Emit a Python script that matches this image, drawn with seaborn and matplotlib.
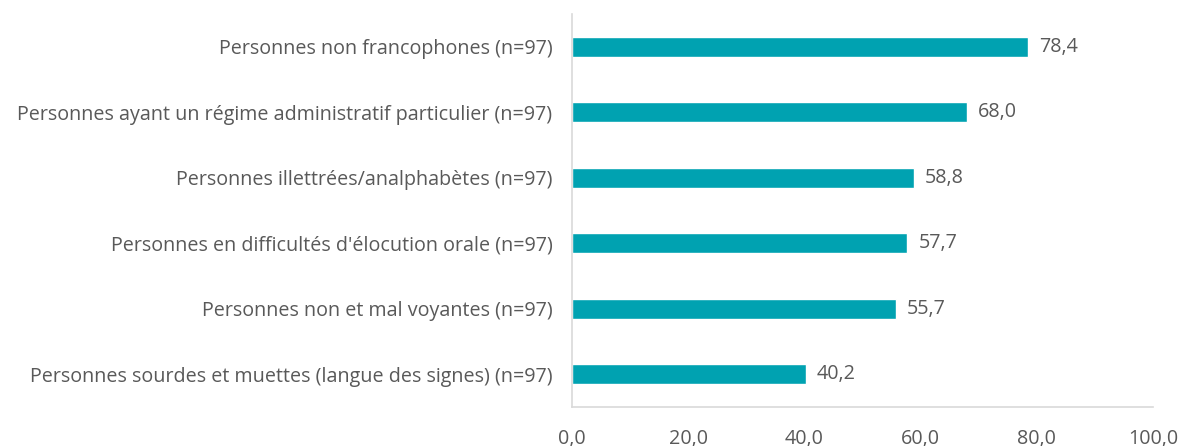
import pandas as pd
import seaborn as sns
import matplotlib.pyplot as plt

# Data
categories = [
    "Personnes non francophones (n=97)",
    "Personnes ayant un régime administratif particulier (n=97)",
    "Personnes illettrées/analphabètes (n=97)",
    "Personnes en difficultés d'élocution orale (n=97)",
    "Personnes non et mal voyantes (n=97)",
    "Personnes sourdes et muettes (langue des signes) (n=97)",
]
values = [78.4, 68.0, 58.8, 57.7, 55.7, 40.2]
x_ticks = [0, 20, 40, 60, 80, 100]

df = pd.DataFrame({"categorie": categories, "valeur": values})

sns.set_style("white")
plt.rcParams['font.family'] = ['Open Sans', 'DejaVu Sans']

text_color = "#595959"
bar_color = "#00A2B1"
fsize = 14.2

fig = plt.figure(figsize=(11.82, 4.46), dpi=100)
ax = fig.add_axes([0.4839, 0.0874, 0.4916, 0.8812])

sns.barplot(data=df, x="valeur", y="categorie", color=bar_color,
            width=0.30, saturation=1, ax=ax)

# value labels with French decimal comma
labels = [f"{v:.1f}".replace(".", ",") for v in values]
ax.bar_label(ax.containers[0], labels=labels, padding=8,
             fontsize=fsize, color=text_color)

ax.set_xlim(0, 100)
ax.set_ylim(5.5, -0.5)
ax.set_xticks(x_ticks)
ax.set_xticklabels([f"{t:.1f}".replace(".", ",") for t in x_ticks])
ax.set_xlabel("")
ax.set_ylabel("")

ax.tick_params(axis="x", length=0, pad=16, labelsize=fsize, labelcolor=text_color)
ax.tick_params(axis="y", length=0, pad=14, labelsize=fsize, labelcolor=text_color)

for side in ["top", "right"]:
    ax.spines[side].set_visible(False)
for side in ["left", "bottom"]:
    ax.spines[side].set_color("#D9D9D9")
    ax.spines[side].set_linewidth(1.2)

fig.savefig("out.png", dpi=100)
